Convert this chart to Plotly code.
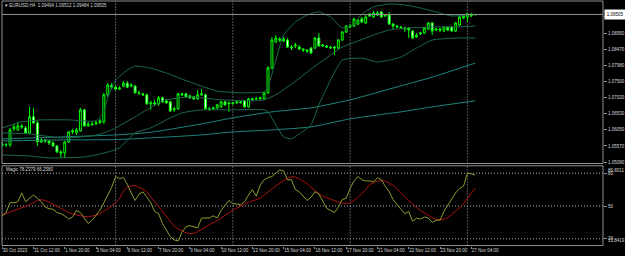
import plotly.graph_objects as go

# ---------------- data ----------------
bars = list(range(123))
opens = [1.0560, 1.0563, 1.0560, 1.0560, 1.0608, 1.0605, 1.0617, 1.0611, 1.0596, 1.0644,
         1.0626, 1.0569, 1.0575, 1.0572, 1.0566, 1.0557, 1.0539, 1.0536, 1.0569, 1.0599,
         1.0596, 1.0602, 1.0665, 1.0617, 1.0623, 1.0623, 1.0626, 1.0629, 1.0710, 1.0739,
         1.0733, 1.0727, 1.0736, 1.0745, 1.0736, 1.0736, 1.0716, 1.0713, 1.0710, 1.0683,
         1.0686, 1.0683, 1.0701, 1.0692, 1.0689, 1.0665, 1.0668, 1.0713, 1.0713, 1.0707,
         1.0704, 1.0698, 1.0710, 1.0710, 1.0668, 1.0668, 1.0671, 1.0674, 1.0689, 1.0683,
         1.0686, 1.0686, 1.0689, 1.0692, 1.0674, 1.0698, 1.0698, 1.0698, 1.0698, 1.0716,
         1.0790, 1.0868, 1.0877, 1.0871, 1.0874, 1.0853, 1.0856, 1.0853, 1.0847, 1.0844,
         1.0850, 1.0850, 1.0880, 1.0856, 1.0856, 1.0853, 1.0853, 1.0850, 1.0874, 1.0898,
         1.0916, 1.0916, 1.0922, 1.0937, 1.0925, 1.0952, 1.0943, 1.0949, 1.0958, 1.0946,
         1.0949, 1.0922, 1.0916, 1.0913, 1.0907, 1.0910, 1.0901, 1.0883, 1.0892, 1.0895,
         1.0907, 1.0925, 1.0904, 1.0907, 1.0901, 1.0913, 1.0913, 1.0901, 1.0919, 1.0940,
         1.0943, 1.0946, 1.09494]
closes = [1.0563, 1.0560, 1.0561, 1.0605, 1.0614, 1.0617, 1.0614, 1.0596, 1.0644, 1.0626,
          1.0569, 1.0575, 1.0572, 1.0566, 1.0557, 1.0539, 1.0536, 1.0569, 1.0599, 1.0602,
          1.0605, 1.0665, 1.0617, 1.0623, 1.0621, 1.0626, 1.0632, 1.0710, 1.0739, 1.0733,
          1.0727, 1.0730, 1.0745, 1.0733, 1.0739, 1.0716, 1.0714, 1.0710, 1.0683, 1.0686,
          1.0683, 1.0701, 1.0689, 1.0686, 1.0662, 1.0668, 1.0713, 1.0710, 1.0704, 1.0701,
          1.0698, 1.0710, 1.0713, 1.0668, 1.0666, 1.0671, 1.0680, 1.0689, 1.0680, 1.0686,
          1.0684, 1.0689, 1.0687, 1.0674, 1.0698, 1.0696, 1.0699, 1.0701, 1.0716, 1.0790,
          1.0874, 1.0880, 1.0874, 1.0877, 1.0853, 1.0851, 1.0859, 1.0847, 1.0844, 1.0841,
          1.0835, 1.0880, 1.0856, 1.0859, 1.0853, 1.0851, 1.0850, 1.0874, 1.0898, 1.0916,
          1.0914, 1.0937, 1.0934, 1.0928, 1.0943, 1.0946, 1.0955, 1.0955, 1.0943, 1.0949,
          1.0922, 1.0916, 1.0913, 1.0911, 1.0910, 1.0904, 1.0880, 1.0889, 1.0895, 1.0910,
          1.0925, 1.0901, 1.0907, 1.0904, 1.0913, 1.0904, 1.0901, 1.0925, 1.0943, 1.0946,
          1.0952, 1.0949, 1.09505]
highs = [1.0569, 1.0569, 1.0566, 1.0611, 1.0623, 1.0629, 1.0623, 1.0617, 1.0674, 1.0671,
         1.0632, 1.0581, 1.0578, 1.0575, 1.0572, 1.0560, 1.0545, 1.0572, 1.0602, 1.0608,
         1.0611, 1.0671, 1.0668, 1.0629, 1.0629, 1.0632, 1.0638, 1.0716, 1.0745, 1.0745,
         1.0739, 1.0736, 1.0751, 1.0751, 1.0745, 1.0739, 1.0722, 1.0716, 1.0713, 1.0692,
         1.0695, 1.0707, 1.0704, 1.0698, 1.0692, 1.0674, 1.0716, 1.0716, 1.0716, 1.0710,
         1.0707, 1.0724, 1.0727, 1.0713, 1.0674, 1.0674, 1.0683, 1.0692, 1.0692, 1.0689,
         1.0689, 1.0692, 1.0692, 1.0695, 1.0701, 1.0701, 1.0704, 1.0704, 1.0719, 1.0796,
         1.0883, 1.0889, 1.0883, 1.0883, 1.0880, 1.0859, 1.0865, 1.0859, 1.0850, 1.0847,
         1.0853, 1.0883, 1.0895, 1.0862, 1.0859, 1.0856, 1.0856, 1.0877, 1.0901, 1.0919,
         1.0922, 1.0940, 1.0937, 1.0943, 1.0949, 1.0955, 1.0961, 1.0961, 1.0961, 1.0952,
         1.0958, 1.0925, 1.0919, 1.0916, 1.0913, 1.0913, 1.0904, 1.0895, 1.0898, 1.0913,
         1.0928, 1.0928, 1.0910, 1.0910, 1.0916, 1.0916, 1.0916, 1.0928, 1.0946, 1.0949,
         1.0955, 1.0955, 1.09512]
lows = [1.0554, 1.0554, 1.0554, 1.0554, 1.0602, 1.0602, 1.0608, 1.0593, 1.0593, 1.0623,
        1.0557, 1.0566, 1.0566, 1.0560, 1.0554, 1.0536, 1.0521, 1.0521, 1.0566, 1.0593,
        1.0590, 1.0599, 1.0614, 1.0614, 1.0617, 1.0620, 1.0623, 1.0623, 1.0704, 1.0727,
        1.0724, 1.0724, 1.0733, 1.0730, 1.0733, 1.0713, 1.0710, 1.0707, 1.0680, 1.0665,
        1.0677, 1.0677, 1.0686, 1.0683, 1.0659, 1.0659, 1.0665, 1.0707, 1.0701, 1.0698,
        1.0695, 1.0695, 1.0707, 1.0665, 1.0662, 1.0665, 1.0668, 1.0671, 1.0677, 1.0659,
        1.0680, 1.0683, 1.0683, 1.0671, 1.0671, 1.0692, 1.0695, 1.0695, 1.0695, 1.0713,
        1.0787, 1.0865, 1.0868, 1.0868, 1.0850, 1.0844, 1.0850, 1.0844, 1.0838, 1.0835,
        1.0832, 1.0847, 1.0853, 1.0853, 1.0850, 1.0847, 1.0829, 1.0847, 1.0871, 1.0895,
        1.0910, 1.0913, 1.0919, 1.0925, 1.0922, 1.0943, 1.0940, 1.0946, 1.0940, 1.0943,
        1.0919, 1.0907, 1.0910, 1.0907, 1.0898, 1.0880, 1.0877, 1.0880, 1.0889, 1.0892,
        1.0904, 1.0889, 1.0901, 1.0898, 1.0898, 1.0901, 1.0898, 1.0898, 1.0916, 1.0937,
        1.0928, 1.0943, 1.09484]

# Bollinger bands (upper / middle / lower), read at selected bars
bb_up_x = [1, 6, 11, 18, 25, 27, 28, 30, 33, 35, 39, 43, 47, 52, 56, 62, 68, 69, 71, 73,
           76, 79, 82, 85, 88, 91, 93, 96, 100, 104, 108, 112, 116, 120, 122]
bb_up = [1.0611, 1.0629, 1.0635, 1.0635, 1.0632, 1.0659, 1.0703, 1.0754, 1.0784, 1.0796,
         1.0790, 1.0775, 1.0757, 1.0736, 1.0721, 1.0716, 1.0719, 1.0733, 1.0814, 1.0889,
         1.0928, 1.0949, 1.0958, 1.0943, 1.0910, 1.0922, 1.0952, 1.0973, 1.0982, 1.0979,
         1.0970, 1.0958, 1.0946, 1.0949, 1.0952]
bb_mid_x = [1, 8, 16, 24, 27, 30, 35, 42, 49, 57, 65, 68, 71, 75, 80, 85, 88, 92, 96, 100,
            105, 111, 117, 122]
bb_mid = [1.0596, 1.0593, 1.0581, 1.0587, 1.0596, 1.0611, 1.0644, 1.0692, 1.0704, 1.0695,
          1.0692, 1.0695, 1.0710, 1.0742, 1.0787, 1.0829, 1.0853, 1.0871, 1.0889, 1.0904,
          1.0910, 1.0913, 1.0913, 1.0916]
bb_low_x = [1, 8, 13, 22, 26, 29, 31, 35, 39, 43, 47, 52, 59, 68, 69, 71, 73, 75, 77, 80,
            82, 85, 88, 93, 97, 100, 103, 107, 111, 117, 122]
bb_low = [1.0530, 1.0527, 1.0521, 1.0524, 1.0533, 1.0542, 1.0551, 1.0596, 1.0611, 1.0635,
          1.0656, 1.0665, 1.0665, 1.0665, 1.0659, 1.0620, 1.0584, 1.0578, 1.0593, 1.0620,
          1.0680, 1.0754, 1.0814, 1.0820, 1.0808, 1.0814, 1.0823, 1.0850, 1.0874, 1.0880,
          1.0880]

# two slow moving averages
ma1_x = [1, 16, 30, 39, 52, 60, 70, 80, 90, 100, 111, 122]
ma1 = [1.0578, 1.0584, 1.0590, 1.0598, 1.0623, 1.0641, 1.0659, 1.0671, 1.0695, 1.0727, 1.0763, 1.0805]
ma2_x = [1, 16, 30, 39, 52, 60, 70, 80, 90, 103, 111, 122]
ma2 = [1.0572, 1.0575, 1.0576, 1.0581, 1.0590, 1.0599, 1.0605, 1.0614, 1.0638, 1.0659, 1.0674, 1.0692]

# "Magic" oscillator (two lines), one value per bar
magic_fast = [42, 41, 44, 53, 53, 54, 62, 54, 57, 60,
              57, 54, 49, 47.5, 47, 44, 43, 41, 38, 40,
              46, 44, 39, 34, 37, 41, 46, 53, 60, 67,
              77, 75, 76, 70, 62, 55, 61, 63, 58, 53,
              45, 43, 34, 28, 22, 19, 18, 26, 31, 32,
              31, 30, 39, 39, 39, 41, 39, 46, 51, 55,
              52, 52, 51, 54, 60, 65, 59, 69, 74, 76,
              77, 80, 83, 82, 74, 74, 65, 63, 59, 55,
              58, 63, 61, 55, 48, 46, 44, 49, 56, 57,
              66, 73, 77, 74, 73, 73, 72, 76, 74, 68,
              63, 56, 51, 47, 43, 45, 36, 39, 38, 40,
              39, 35, 37, 37, 45, 51, 56, 62, 66, 68,
              80, 79.5, 78.2379]
magic_slow = [43, 41.5, 43, 44.5, 46, 47.5, 48.5, 49.5, 51.5, 53.5,
              55, 55.8, 55, 53.5, 51.5, 49.5, 47.5, 45.5, 44, 42.8,
              41.8, 41, 40.4, 40.2, 40.6, 41.5, 43, 45, 47.5, 50,
              53, 57, 63.5, 67, 68.5, 68.8, 67.5, 65.5, 63, 58.5,
              54, 50, 45.5, 40, 35.5, 31.5, 29, 27, 25.5, 24.6,
              25, 26.5, 28.5, 31, 33, 35, 37, 39, 41.5, 44,
              46, 48, 49.5, 51.5, 53.5, 54.8, 55.8, 57, 60, 63,
              65.5, 68.5, 71, 73.5, 75.5, 76.8, 76.5, 75, 73, 70.5,
              67, 64, 61.5, 59, 57.5, 56, 54.5, 53.5, 52.8, 52.3,
              53, 55, 58, 61.5, 65, 69.5, 71.5, 73, 73.2, 72.8,
              71, 69, 66, 62, 58, 55, 52, 48.5, 46, 43.5,
              41, 39.2, 37.8, 37.2, 37.8, 39.5, 42, 45, 48.5, 52,
              57, 61.5, 66.258]

price_ticks = [1.0508, 1.0557, 1.0605, 1.0653, 1.0702, 1.0750, 1.0798, 1.0847, 1.0895, 1.0943]
price_tick_text = ["1.05080", "1.05570", "1.06050", "1.06530", "1.07020", "1.07500",
                   "1.07980", "1.08470", "1.08950", "1.09430"]
osc_levels = [80, 50, 20]
osc_min, osc_max = 13.8419, 86.8011
last_price = 1.09505
week_starts = [30, 60, 90, 120]
time_ticks = [1, 9, 17, 25, 33, 41, 49, 57, 65, 73, 81, 89, 97, 105, 113, 121]
time_text = ["30 Oct 2023", "31 Oct 12:00", "1 Nov 20:00", "3 Nov 04:00", "6 Nov 12:00",
             "7 Nov 20:00", "9 Nov 04:00", "10 Nov 12:00", "13 Nov 20:00", "15 Nov 04:00",
             "16 Nov 12:00", "17 Nov 20:00", "21 Nov 04:00", "22 Nov 12:00", "23 Nov 20:00",
             "27 Nov 04:00"]
title_text = "\u25BE EURUSD,H4  1.09494 1.09512 1.09484 1.09505"
osc_text = "Magic 78.2379 66.2580"

# ---------------- layout geometry ----------------
W, H = 625, 256
def fx(p):
    return p / W
def fy(p):
    return 1 - p / H

X0, X1 = 2, 603
MAIN_T, MAIN_B = 1, 163.5
IND_T, IND_B = 165.8, 245.5
main_dom = [fy(MAIN_B), fy(MAIN_T)]
ind_dom = [fy(IND_B), fy(IND_T)]
main_range = [1.09938 - 0.0002993 * MAIN_B, 1.09938 - 0.0002993 * MAIN_T]

FONT = "Liberation Sans"
FS = 4.5
TXT = "#d8d8d8"
GRID = "#a8a8a8"
BORDER = "#909090"
BB_COL = "#1d6a4c"
MA_COL = "#1f857c"

fig = go.Figure()

fig.add_trace(go.Candlestick(
    x=bars, open=opens, high=highs, low=lows, close=closes,
    increasing=dict(line=dict(color="#00ff00", width=1), fillcolor="#000000"),
    decreasing=dict(line=dict(color="#00ff00", width=1), fillcolor="#ffffff"),
    whiskerwidth=0, hoverinfo="skip", xaxis="x", yaxis="y"))

for xs, ys, col, sm in [(ma2_x, ma2, MA_COL, 0.6), (ma1_x, ma1, MA_COL, 0.6),
                        (bb_up_x, bb_up, BB_COL, 0.45), (bb_mid_x, bb_mid, BB_COL, 0.45),
                        (bb_low_x, bb_low, BB_COL, 0.45)]:
    fig.add_trace(go.Scatter(x=xs, y=ys, mode="lines",
                             line=dict(color=col, width=1, shape="spline", smoothing=sm),
                             hoverinfo="skip", xaxis="x", yaxis="y"))

fig.add_trace(go.Scatter(x=bars, y=magic_slow, mode="lines", line=dict(color="#a81212", width=1),
                         hoverinfo="skip", xaxis="x", yaxis="y2"))
fig.add_trace(go.Scatter(x=bars, y=magic_fast, mode="lines", line=dict(color="#8e9c2e", width=1),
                         hoverinfo="skip", xaxis="x", yaxis="y2"))

shapes = []
# pane borders
for t, b in [(MAIN_T, MAIN_B), (IND_T, IND_B)]:
    shapes.append(dict(type="rect", xref="paper", yref="paper", x0=fx(X0), x1=fx(X1),
                       y0=fy(b), y1=fy(t), line=dict(color=BORDER, width=1), layer="above"))
# current price line
shapes.append(dict(type="line", xref="paper", yref="y", x0=fx(X0), x1=fx(X1),
                   y0=last_price, y1=last_price, line=dict(color=BORDER, width=1)))
# week separators
for b in week_starts:
    for dom in (main_dom, ind_dom):
        shapes.append(dict(type="line", xref="x", yref="paper", x0=b, x1=b, y0=dom[0], y1=dom[1],
                           line=dict(color=GRID, width=1, dash="1px,2px"), layer="below"))
# oscillator levels
for lv in osc_levels:
    shapes.append(dict(type="line", xref="paper", yref="y2", x0=fx(X0), x1=fx(X1), y0=lv, y1=lv,
                       line=dict(color=GRID, width=1, dash="1px,2px"), layer="below"))

font = dict(family=FONT, size=FS, color=TXT)
annotations = [
    dict(xref="paper", yref="paper", x=fx(3), y=fy(5.5), text=title_text, showarrow=False,
         xanchor="left", yanchor="middle", font=font),
    dict(xref="paper", yref="paper", x=fx(4), y=fy(169.5), text=osc_text, showarrow=False,
         xanchor="left", yanchor="middle", font=font),
    dict(xref="paper", yref="y", x=fx(604), y=last_price, text="1.09505", showarrow=False,
         xanchor="left", yanchor="middle", bgcolor="#ffffff", borderpad=1.8,
         font=dict(family=FONT, size=FS, color="#000000")),
    dict(xref="paper", yref="y2", x=fx(606), y=osc_max, text="86.8011", showarrow=False,
         xanchor="left", yanchor="top", yshift=-0.5, font=font),
    dict(xref="paper", yref="y2", x=fx(606), y=osc_min, text="13.8419", showarrow=False,
         xanchor="left", yanchor="bottom", yshift=0.5, font=font),
]

axis_common = dict(showgrid=False, zeroline=False, showline=False)
fig.update_layout(
    width=W, height=H, margin=dict(l=0, r=0, t=0, b=0),
    paper_bgcolor="#000000", plot_bgcolor="#000000", showlegend=False, hovermode=False,
    xaxis=dict(domain=[fx(X0), fx(X1)], range=[0.95, 154.7], anchor="y2",
               rangeslider=dict(visible=False), tickmode="array", tickvals=time_ticks,
               ticktext=time_text, ticks="outside", ticklen=2, tickcolor=BORDER, tickangle=0,
               ticklabelposition="outside right", tickfont=font, **axis_common),
    yaxis=dict(domain=main_dom, range=main_range, side="right", anchor="x",
               tickmode="array", tickvals=price_ticks, ticktext=price_tick_text,
               ticks="outside", ticklen=3, tickcolor=BORDER, tickfont=font, **axis_common),
    yaxis2=dict(domain=ind_dom, range=[osc_min, osc_max], side="right", anchor="x",
                tickmode="array", tickvals=osc_levels, ticktext=[str(v) for v in osc_levels],
                ticks="outside", ticklen=3, tickcolor=BORDER, tickfont=font, **axis_common),
    shapes=shapes, annotations=annotations,
)

fig.write_html("out.html")
